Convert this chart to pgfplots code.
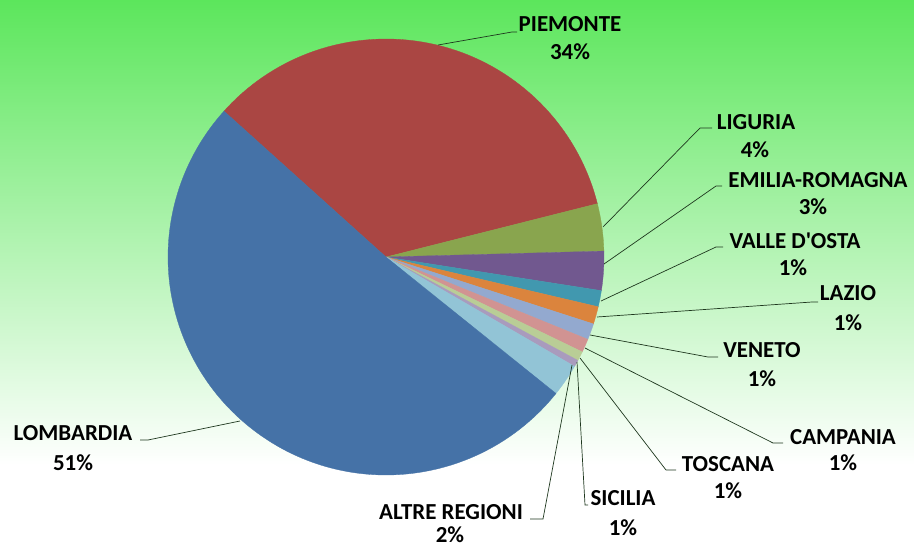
\documentclass[border=0pt]{standalone}
\usepackage{pgfplots}
\usepackage{pgfplotstable}
\pgfplotsset{compat=1.18}
\usepackage{fontspec}
\setmainfont{Carlito}[Ligatures=TeXOff]

\definecolor{bgtop}{RGB}{92,230,92}
\definecolor{leader}{RGB}{30,55,30}
\definecolor{c0}{RGB}{170,70,67}
\definecolor{c1}{RGB}{137,165,78}
\definecolor{c2}{RGB}{113,88,143}
\definecolor{c3}{RGB}{65,152,175}
\definecolor{c4}{RGB}{219,132,61}
\definecolor{c5}{RGB}{147,169,207}
\definecolor{c6}{RGB}{209,147,146}
\definecolor{c7}{RGB}{185,205,150}
\definecolor{c8}{RGB}{169,155,189}
\definecolor{c9}{RGB}{146,196,214}
\definecolor{c10}{RGB}{69,114,167}

% share of each region, clockwise from Piemonte
\pgfplotstableread[col sep=comma]{
region,pct
PIEMONTE,34.4
LIGURIA,3.5
EMILIA-ROMAGNA,2.9
VALLE D'OSTA,1.2
LAZIO,1.3
VENETO,1.2
CAMPANIA,1.0
TOSCANA,0.7
SICILIA,0.5
ALTRE REGIONI,2.4
LOMBARDIA,50.9
}\piedata

\tikzset{
  lab/.style={anchor=base, font=\bfseries\fontsize{23}{27}\selectfont, text=black, inner sep=0pt},
  ld/.style={draw=leader, line width=0.7pt},
}

\begin{document}
\begin{tikzpicture}
\clip (0,0) rectangle (914bp,547bp);
\begin{axis}[
  at={(0,0)}, anchor=south west,
  width=914bp, height=547bp, scale only axis,
  xmin=0, xmax=914, ymin=0, ymax=547, y dir=reverse,
  hide axis, clip=false,
]
% background
\fill[white] (axis cs:0,465) rectangle (axis cs:914,547);
\shade[top color=bgtop, bottom color=white] (axis cs:0,0) rectangle (axis cs:914,465);

% slices
\pgfplotsextra{
  \gdef\startang{138}
  \foreach \i in {0,...,10}{
    \pgfplotstablegetelem{\i}{pct}\of\piedata
    \pgfmathsetmacro\endang{\startang-3.6*\pgfplotsretval}
    \fill[c\i, draw=c\i, line width=0.3pt] (axis cs:386,257) -- ++(\startang:218bp)
      arc[start angle=\startang, end angle=\endang, radius=218bp] -- cycle;
    \global\let\startang\endang
  }
}

% leader lines
\draw[ld] (axis cs:438,45) -- (axis cs:512,32) -- (axis cs:517,32);
\draw[ld] (axis cs:603,227) -- (axis cs:700,128) -- (axis cs:712,128);
\draw[ld] (axis cs:604,264) -- (axis cs:716,186) -- (axis cs:722,186);
\draw[ld] (axis cs:601,301) -- (axis cs:716,247) -- (axis cs:723,247);
\draw[ld] (axis cs:597,317) -- (axis cs:812,302) -- (axis cs:818,302);
\draw[ld] (axis cs:590,335) -- (axis cs:708,357) -- (axis cs:718,357);
\draw[ld] (axis cs:585,348) -- (axis cs:773,443) -- (axis cs:783,443);
\draw[ld] (axis cs:580,358) -- (axis cs:666,470) -- (axis cs:676,470);
\draw[ld] (axis cs:577,362) -- (axis cs:585,505) -- (axis cs:588,505);
\draw[ld] (axis cs:572,365) -- (axis cs:543,519) -- (axis cs:530,519);
\draw[ld] (axis cs:240,421) -- (axis cs:148,440) -- (axis cs:140,440);

% labels
\node[lab] at (axis cs:570,32) {PIEMONTE};
\node[lab] at (axis cs:570,60) {34\%};
\node[lab] at (axis cs:756,129) {LIGURIA};
\node[lab] at (axis cs:755,157) {4\%};
\node[lab] at (axis cs:818,187) {EMILIA-ROMAGNA};
\node[lab] at (axis cs:813,214) {3\%};
\node[lab] at (axis cs:795,248) {VALLE D'OSTA};
\node[lab] at (axis cs:793,275) {1\%};
\node[lab] at (axis cs:848,300) {LAZIO};
\node[lab] at (axis cs:848,330) {1\%};
\node[lab] at (axis cs:762,357) {VENETO};
\node[lab] at (axis cs:762,386) {1\%};
\node[lab] at (axis cs:843,444) {CAMPANIA};
\node[lab] at (axis cs:843,470) {1\%};
\node[lab] at (axis cs:728,471) {TOSCANA};
\node[lab] at (axis cs:728,498) {1\%};
\node[lab] at (axis cs:623,505) {SICILIA};
\node[lab] at (axis cs:623,535) {1\%};
\node[lab] at (axis cs:451,519) {ALTRE REGIONI};
\node[lab] at (axis cs:450,542) {2\%};
\node[lab] at (axis cs:73,440) {LOMBARDIA};
\node[lab] at (axis cs:73,470) {51\%};
\end{axis}
\end{tikzpicture}
\end{document}
